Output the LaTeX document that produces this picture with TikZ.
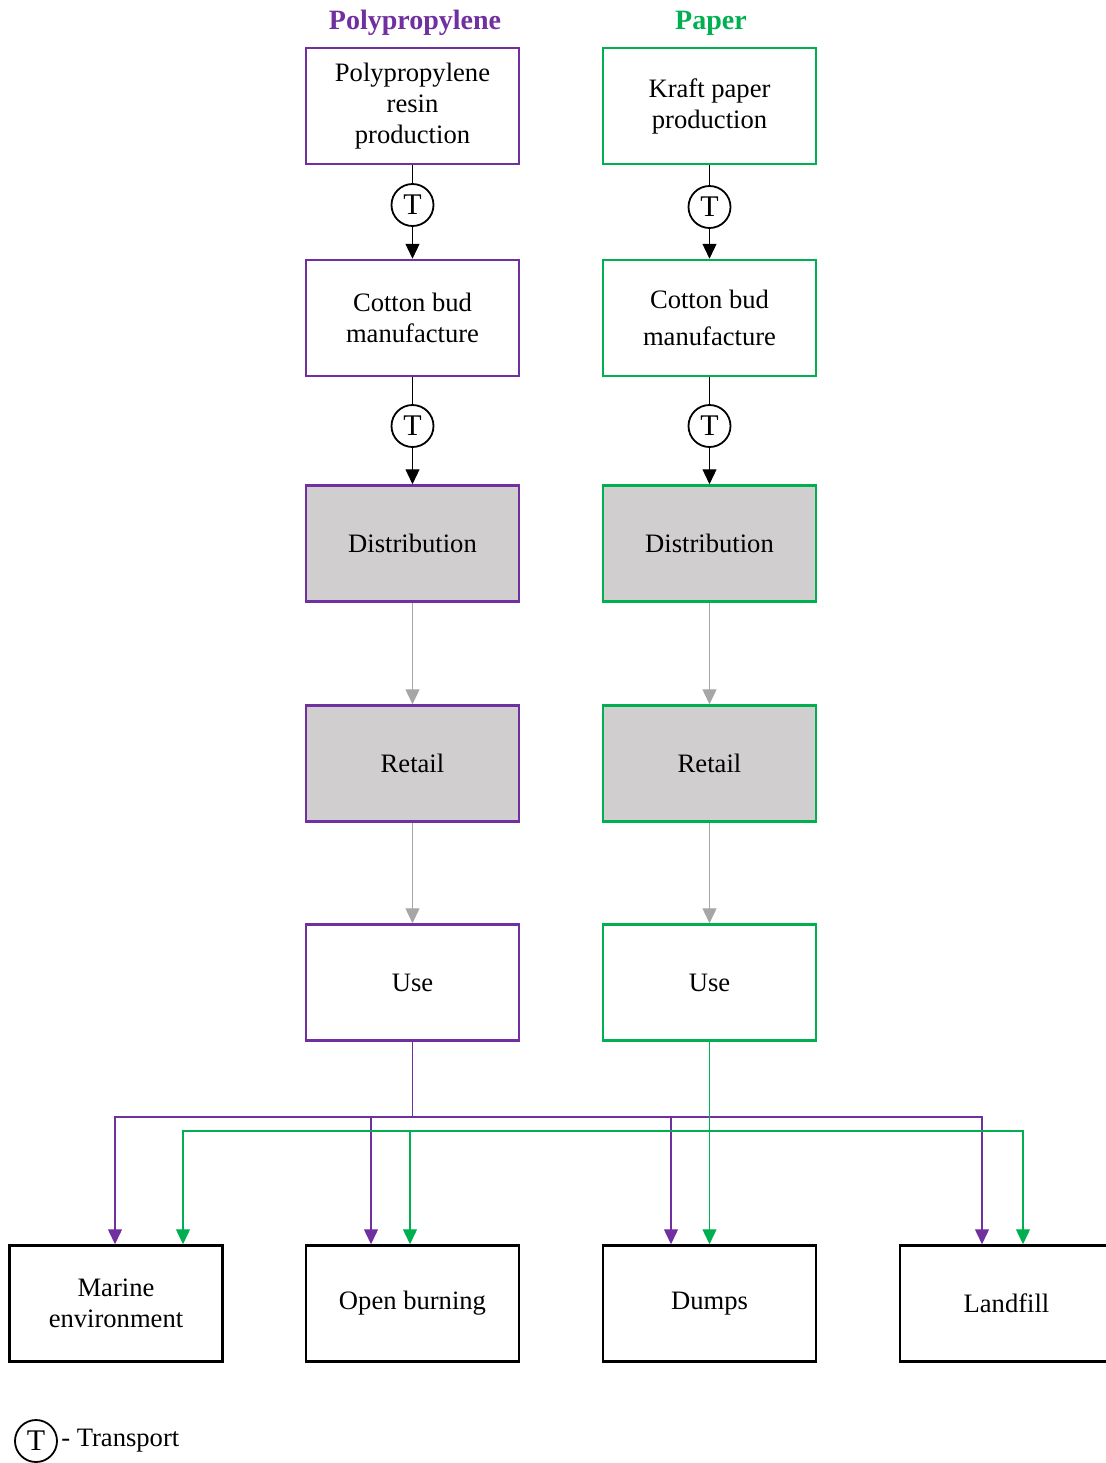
\documentclass[tikz,border=0pt]{standalone}
\usepackage{fontspec}
\setmainfont{Liberation Serif}
\usepackage{tikz}
\usetikzlibrary{arrows.meta,positioning}
\definecolor{pp}{HTML}{7030A0}
\definecolor{kp}{HTML}{00B050}
\definecolor{boxgrey}{HTML}{D0CECE}
\definecolor{linegrey}{HTML}{A6A6A6}
\tikzstyle{pbox} = [rectangle, draw=pp, line width=1.25pt, align=center, minimum width=106.5pt, minimum height=58pt, inner sep=2pt, font=\fontsize{13.3}{15.5}\selectfont]
\tikzstyle{gbox} = [pbox, draw=kp]
\tikzstyle{endbox} = [pbox, draw=black]
\tikzstyle{tc} = [circle, draw=black, line width=0.9pt, inner sep=0pt, minimum size=21pt, fill=white, font=\fontsize{15}{15}\selectfont]
\tikzstyle{title} = [font=\fontsize{14}{16}\selectfont\bfseries]
\tikzstyle{arr} = [-{Triangle[width=7pt,length=7.5pt]}]
\tikzstyle{k} = [black, line width=0.6pt]
\tikzstyle{gr} = [linegrey, line width=0.7pt]
\tikzstyle{pl} = [pp, line width=0.7pt]
\tikzstyle{gl} = [kp, line width=0.7pt]

\begin{document}
\begin{tikzpicture}[x=0.5pt,y=-0.5pt]
		\useasboundingbox (0,0) rectangle (1106,1463);

		% column titles
		\node[title, pp] (ptitle) at (415,23) {Polypropylene};
		\node[title, kp] (gtitle) at (711,23) {Paper};

		% polypropylene chain
		\node[pbox] (pres) at (412.5,106) {Polypropylene\\resin\\production};
		\node[pbox] (pcb) at (412.5,318) {Cotton bud\\manufacture};
		\node[pbox, fill=boxgrey] (pdist) at (412.5,543.5) {Distribution};
		\node[pbox, fill=boxgrey] (pret) at (412.5,763.5) {Retail};
		\node[pbox] (puse) at (412.5,982.5) {Use};

		% paper chain
		\node[gbox] (gres) at (709.5,106) {Kraft paper\\production};
		\node[gbox] (gcb) at (709.5,318) {Cotton bud\\[3pt]manufacture};
		\node[gbox, fill=boxgrey] (gdist) at (709.5,543.5) {Distribution};
		\node[gbox, fill=boxgrey] (gret) at (709.5,763.5) {Retail};
		\node[gbox] (guse) at (709.5,982.5) {Use};

		% end of life
		\node[endbox] (marine) at (116,1303.5) {Marine\\environment};
		\node[endbox] (burn) at (412.5,1303.5) {Open burning};
		\node[endbox] (dumps) at (709.5,1303.5) {Dumps};
		\node[endbox] (landfill) at (1006.5,1303.5) {Landfill};

		% transport
		\node[tc] (pt1) at (412.5,205) {T};
		\node[tc] (pt2) at (412.5,426) {T};
		\node[tc] (gt1) at (709.5,207) {T};
		\node[tc] (gt2) at (709.5,426) {T};

		\draw[k] (pres) -- (pt1);
		\draw[k,arr] (pt1) -- (pcb);
		\draw[k] (pcb) -- (pt2);
		\draw[k,arr] (pt2) -- (pdist);
		\draw[k] (gres) -- (gt1);
		\draw[k,arr] (gt1) -- (gcb);
		\draw[k] (gcb) -- (gt2);
		\draw[k,arr] (gt2) -- (gdist);

		\draw[gr,arr] (pdist) -- (pret);
		\draw[gr,arr] (pret) -- (puse);
		\draw[gr,arr] (gdist) -- (gret);
		\draw[gr,arr] (gret) -- (guse);

		% purple routes
		\coordinate (pjoin) at (412.5,1117);
		\draw[pl] (puse.south) -- (pjoin);
		\draw[pl,arr] (pjoin) -| ([xshift=-0.5pt]marine.north);
		\draw[pl,arr] (pjoin) -| ([xshift=-20.75pt]burn.north);
		\draw[pl,arr] (pjoin) -| ([xshift=-19.25pt]dumps.north);
		\draw[pl,arr] (pjoin) -| ([xshift=-12.25pt]landfill.north);

		% green routes
		\coordinate (gjoin) at (709.5,1131);
		\draw[gl,arr] (guse.south) -- (dumps.north);
		\draw[gl,arr] (gjoin) -| ([xshift=33.5pt]marine.north);
		\draw[gl,arr] (gjoin) -| ([xshift=-1.25pt]burn.north);
		\draw[gl,arr] (gjoin) -| ([xshift=8.25pt]landfill.north);

		% legend
		\node[tc] (leg) at (36,1441) {T};
		\node[right=1.5pt of leg, inner sep=0pt, font=\fontsize{13.3}{15.5}\selectfont] (legtext) {- Transport};
	\end{tikzpicture}
\end{document}
